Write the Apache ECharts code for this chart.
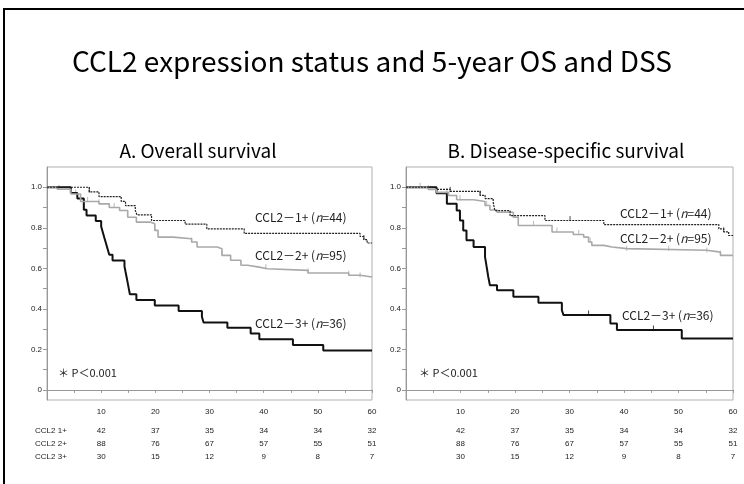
<!DOCTYPE html>
<html>
<head>
<meta charset="UTF-8">
<title>CCL2 survival</title>
<script src="https://cdn.jsdelivr.net/npm/echarts@6/dist/echarts.min.js"></script>
<style>html,body{margin:0;padding:0;background:#fff;} #main{width:744px;height:484px;}</style>
</head>
<body>
<div id="main"></div>
<script>
// survival curves: [month, survival]
var osGroup1 = [[0,1],[7.8,0.977],[9.6,0.954],[13.7,0.93],[14.5,0.909],[16.3,0.886],[16.6,0.864],[19.3,0.836],[25.5,0.818],[29.5,0.795],[36.4,0.772],[57.8,0.757],[58.5,0.742],[59.1,0.725],[60,0.725]];
var osGroup2 = [[0,1],[1.9,0.99],[4.4,0.967],[6.2,0.93],[9.6,0.918],[11.5,0.9],[13.4,0.885],[14.9,0.852],[16.5,0.828],[19.0,0.82],[19.9,0.787],[20.5,0.754],[23.3,0.746],[26.7,0.73],[27.7,0.705],[31.4,0.697],[32.3,0.664],[33.9,0.64],[35.8,0.615],[37.0,0.607],[38.9,0.598],[40.7,0.59],[48.2,0.577],[55.7,0.566],[57.8,0.557],[60,0.557]];
var osGroup3 = [[0,1],[4.4,0.972],[5.6,0.944],[6.8,0.889],[7.3,0.861],[9.0,0.833],[10.0,0.806],[10.3,0.778],[10.6,0.75],[10.9,0.722],[11.2,0.694],[11.5,0.667],[12.1,0.639],[14.3,0.611],[14.5,0.583],[14.7,0.556],[14.9,0.528],[15.1,0.5],[15.3,0.472],[16.5,0.444],[19.9,0.417],[24.3,0.389],[28.6,0.361],[28.9,0.333],[33.3,0.306],[37.6,0.278],[39.2,0.25],[45.4,0.222],[51.0,0.194],[60,0.194]];

var dssGroup1 = [[0,1],[5.6,0.99],[8.1,0.98],[13.6,0.96],[14.5,0.944],[16.0,0.926],[16.3,0.885],[19.1,0.86],[25.5,0.836],[36.3,0.816],[57.4,0.795],[58.3,0.78],[59.2,0.762],[60,0.762]];
var dssGroup2 = [[0,1],[4.1,0.989],[5.6,0.975],[7.8,0.959],[9.3,0.938],[12.4,0.93],[14.5,0.91],[15.4,0.888],[16.7,0.877],[19.7,0.852],[20.6,0.811],[26.8,0.779],[30.7,0.767],[32.6,0.754],[33.5,0.73],[34.1,0.713],[36.3,0.705],[37.8,0.697],[40.5,0.689],[55.2,0.68],[57.7,0.664],[60,0.664]];
var dssGroup3 = [[0,1],[5.6,0.97],[7.5,0.918],[9.3,0.885],[9.9,0.836],[10.5,0.787],[11.1,0.738],[12.4,0.705],[14.5,0.656],[14.8,0.607],[15.1,0.557],[15.4,0.516],[16.7,0.492],[19.7,0.459],[24.3,0.43],[28.6,0.393],[28.9,0.369],[37.5,0.328],[38.7,0.295],[50.6,0.254],[60,0.254]];

// censoring times (months)
var osCensor1 = [7.8, 58.5];
var osCensor2 = [2.2, 5.3, 7.5, 9.6, 12.4, 19.9, 26.7, 32.3, 40.4, 48.2, 55.7, 57.8];
var dssCensor1 = [8.1, 13.6, 30.1, 58.3];
var dssCensor2 = [2.6, 4.1, 7.5, 9.9, 14.8, 23.4, 27.7, 31.7, 33.8, 40.5, 48.2, 55.2, 57.7];
var dssCensor3 = [33.5, 45.4];

// number at risk
var riskTimes = [10, 20, 30, 40, 50, 60];
var riskGroup1 = [42, 37, 35, 34, 34, 32];
var riskGroup2 = [88, 76, 67, 57, 55, 51];
var riskGroup3 = [30, 15, 12, 9, 8, 7];

var yTicks = [0, 0.1, 0.2, 0.3, 0.4, 0.5, 0.6, 0.7, 0.8, 0.9, 1.0];
var yLabels = [0, 0.2, 0.4, 0.6, 0.8, 1.0];

var chart = echarts.init(document.getElementById('main'));

function survAt(curve, t) {
    var s = curve[0][1];
    for (var i = 0; i < curve.length; i++) {
        if (curve[i][0] <= t) s = curve[i][1];
    }
    return s;
}

function censorPoints(curve, times) {
    return times.map(function (t) { return [t, survAt(curve, t)]; });
}

var styles = [
    { color: '#222', width: 1.2, type: [2, 1] },
    { color: '#a9a9a9', width: 1.6, type: 'solid' },
    { color: '#111', width: 2, type: 'solid' }
];

var grids = [
    { left: 47, top: 167, width: 325, height: 233 },
    { left: 406, top: 167, width: 327, height: 233 }
];

var xAxes = [], yAxes = [], series = [];
var riskRows = [
    { values: null, offset: 0 },
    { values: riskGroup1, offset: 19 },
    { values: riskGroup2, offset: 32 },
    { values: riskGroup3, offset: 45 }
];

grids.forEach(function (g, gi) {
    g.show = true;
    g.borderColor = '#b0b0b0';
    g.borderWidth = 1;
    // main axis
    xAxes.push({
        gridIndex: gi, type: 'value', min: 0, max: 60, interval: 5,
        axisLine: { lineStyle: { color: '#999' } },
        axisTick: { show: true, length: 3, lineStyle: { color: '#999' } },
        axisLabel: { show: false },
        splitLine: { show: false }
    });
    // rows of the at-risk table
    riskRows.forEach(function (row) {
        xAxes.push({
            gridIndex: gi, type: 'value', min: 0, max: 60, position: 'bottom', offset: row.offset,
            axisLine: { show: false }, axisTick: { show: false }, splitLine: { show: false },
            axisLabel: {
                customValues: riskTimes, margin: 8, fontSize: 8, color: '#222',
                fontFamily: 'Liberation Sans',
                formatter: function (v) {
                    var i = riskTimes.indexOf(v);
                    return row.values ? String(row.values[i]) : String(v);
                }
            }
        });
    });
    yAxes.push({
        gridIndex: gi, type: 'value', min: -0.05, max: 1.1,
        axisLine: { show: true, lineStyle: { color: '#999' } },
        axisTick: { show: true, length: 4, customValues: yTicks, lineStyle: { color: '#999' } },
        axisLabel: {
            customValues: yLabels, fontSize: 8, color: '#222', margin: 5, fontFamily: 'Liberation Sans',
            formatter: function (v) { return v === 0 ? '0' : v.toFixed(1); }
        },
        splitLine: { show: false }
    });
});

var panels = [
    { curves: [osGroup1, osGroup2, osGroup3], censors: [osCensor1, osCensor2, []] },
    { curves: [dssGroup1, dssGroup2, dssGroup3], censors: [dssCensor1, dssCensor2, dssCensor3] }
];
var names = ['CCL2 1+', 'CCL2 2+', 'CCL2 3+'];

panels.forEach(function (p, pi) {
    p.curves.forEach(function (c, ci) {
        series.push({
            type: 'line', name: names[ci], xAxisIndex: pi * 5, yAxisIndex: pi,
            step: 'end', data: c, showSymbol: false, silent: true,
            lineStyle: styles[ci], z: 3 - ci + 2
        });
        if (p.censors[ci].length) {
            series.push({
                type: 'scatter', xAxisIndex: pi * 5, yAxisIndex: pi, silent: true,
                data: censorPoints(c, p.censors[ci]),
                symbol: 'rect', symbolSize: [1, 5], symbolOffset: [0, -2],
                itemStyle: { color: styles[ci].color }
            });
        }
    });
});

var labelFont = 'Noto Sans CJK JP';
function curveLabel(x, y, grp, n) {
    return {
        type: 'text', left: x, top: y,
        style: {
            text: 'CCL2－' + grp + '+ ({i|n}=' + n + ')',
            rich: { i: { fontStyle: 'italic', fontSize: 12, fontFamily: labelFont, fill: '#222' } },
            fontSize: 12, fontFamily: labelFont, fill: '#222'
        }
    };
}

var option = {
    animation: false,
    title: [
        { text: 'CCL2 expression status and 5-year OS and DSS', left: 'center', top: 47, padding: 0,
          textStyle: { fontSize: 28, fontWeight: 'normal', color: '#000', fontFamily: labelFont } },
        { text: 'A. Overall survival', left: 198, textAlign: 'center', top: 141, padding: 0,
          textStyle: { fontSize: 19, fontWeight: 'normal', color: '#000', fontFamily: labelFont } },
        { text: 'B. Disease-specific survival', left: 566, textAlign: 'center', top: 141, padding: 0,
          textStyle: { fontSize: 19, fontWeight: 'normal', color: '#000', fontFamily: labelFont } }
    ],
    grid: grids,
    xAxis: xAxes,
    yAxis: yAxes,
    series: series,
    graphic: [
        { type: 'rect', shape: { x: 4, y: 9, width: 800, height: 600 },
          style: { fill: 'none', stroke: '#000', lineWidth: 2 }, silent: true },
        curveLabel(255, 211, 1, 44),
        curveLabel(255, 249, 2, 95),
        curveLabel(255, 317, 3, 36),
        curveLabel(620, 207, 1, 44),
        curveLabel(620, 232, 2, 95),
        curveLabel(622, 309, 3, 36),
        { type: 'text', left: 58, top: 367, style: { text: '＊ P＜0.001', fontSize: 11, fontFamily: labelFont, fill: '#222' } },
        { type: 'text', left: 419, top: 367, style: { text: '＊ P＜0.001', fontSize: 11, fontFamily: labelFont, fill: '#222' } },
        { type: 'text', left: 35, top: 427, style: { text: 'CCL2 1+', fontSize: 8, fontFamily: 'Liberation Sans', fill: '#222' } },
        { type: 'text', left: 35, top: 440, style: { text: 'CCL2 2+', fontSize: 8, fontFamily: 'Liberation Sans', fill: '#222' } },
        { type: 'text', left: 35, top: 453, style: { text: 'CCL2 3+', fontSize: 8, fontFamily: 'Liberation Sans', fill: '#222' } }
    ]
};

chart.setOption(option);
</script>
</body>
</html>
